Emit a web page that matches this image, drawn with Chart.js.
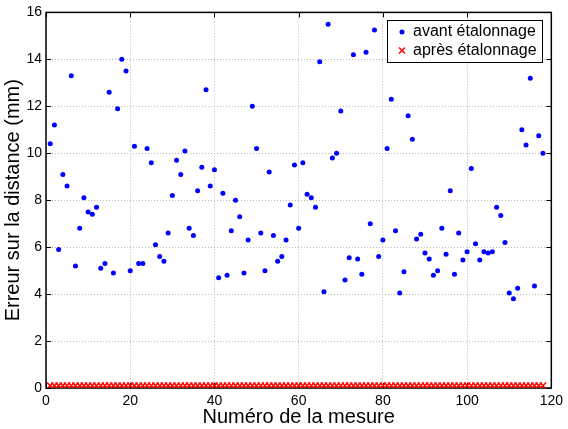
<!DOCTYPE html>
<html>
<head>
<meta charset="utf-8">
<script src="https://cdn.jsdelivr.net/npm/chart.js@4"></script>
<style>
    html, body { margin: 0; padding: 0; background: #fff; }
    canvas { display: block; }
</style>
</head>
<body>
<canvas id="chart" width="568" height="429"></canvas>
<script>
// erreur sur la distance (mm) pour chaque mesure, 1..118
var avantEtalonnage = [
    10.4, 11.2, 5.9, 9.1, 8.6, 13.3, 5.2, 6.8, 8.1, 7.5,
    7.4, 7.7, 5.1, 5.3, 12.6, 4.9, 11.9, 14.0, 13.5, 5.0,
    10.3, 5.3, 5.3, 10.2, 9.6, 6.1, 5.6, 5.4, 6.6, 8.2,
    9.7, 9.1, 10.1, 6.8, 6.5, 8.4, 9.4, 12.7, 8.6, 9.3,
    4.7, 8.3, 4.8, 6.7, 8.0, 7.3, 4.9, 6.3, 12.0, 10.2,
    6.6, 5.0, 9.2, 6.5, 5.4, 5.6, 6.3, 7.8, 9.5, 6.8,
    9.6, 8.25, 8.1, 7.7, 13.9, 4.1, 15.5, 9.8, 10.0, 11.8,
    4.6, 5.55, 14.2, 5.5, 4.85, 14.3, 7.0, 15.25, 5.6, 6.3,
    10.2, 12.3, 6.7, 4.05, 4.95, 11.6, 10.6, 6.35, 6.55, 5.75,
    5.5, 4.8, 5.0, 6.8, 5.7, 8.4, 4.85, 6.6, 5.45, 5.8,
    9.35, 6.15, 5.45, 5.8, 5.75, 5.8, 7.7, 7.35, 6.2, 4.05,
    3.8, 4.25, 11.0, 10.35, 13.2, 4.35, 10.75, 10.0
];
var apresEtalonnage = [
    0.1, 0.1, 0.1, 0.1, 0.1, 0.1, 0.1, 0.1, 0.1, 0.1,
    0.1, 0.1, 0.1, 0.1, 0.1, 0.1, 0.1, 0.1, 0.1, 0.1,
    0.1, 0.1, 0.1, 0.1, 0.1, 0.1, 0.1, 0.1, 0.1, 0.1,
    0.1, 0.1, 0.1, 0.1, 0.1, 0.1, 0.1, 0.1, 0.1, 0.1,
    0.1, 0.1, 0.1, 0.1, 0.1, 0.1, 0.1, 0.1, 0.1, 0.1,
    0.1, 0.1, 0.1, 0.1, 0.1, 0.1, 0.1, 0.1, 0.1, 0.1,
    0.1, 0.1, 0.1, 0.1, 0.1, 0.1, 0.1, 0.1, 0.1, 0.1,
    0.1, 0.1, 0.1, 0.1, 0.1, 0.1, 0.1, 0.1, 0.1, 0.1,
    0.1, 0.1, 0.1, 0.1, 0.1, 0.1, 0.1, 0.1, 0.1, 0.1,
    0.1, 0.1, 0.1, 0.1, 0.1, 0.1, 0.1, 0.1, 0.1, 0.1,
    0.1, 0.1, 0.1, 0.1, 0.1, 0.1, 0.1, 0.1, 0.1, 0.1,
    0.1, 0.1, 0.1, 0.1, 0.1, 0.1, 0.1, 0.1
];
var xTicks = [0, 20, 40, 60, 80, 100, 120];
var yTicks = [0, 2, 4, 6, 8, 10, 12, 14, 16];

var FONT = "'Liberation Sans', Arial, sans-serif";

function toPoints(values) {
    return values.map(function(v, i) { return { x: i + 1, y: v }; });
}

// cadre noir + graduations vers l'intérieur, style matlab
var framePlugin = {
    id: 'frame',
    beforeDatasetsDraw: function(chart) {
        var ctx = chart.ctx, a = chart.chartArea;
        var xs = chart.scales.x, ys = chart.scales.y;
        ctx.save();
        ctx.strokeStyle = '#000';
        ctx.lineWidth = 1;
        ctx.beginPath();
        xTicks.forEach(function(t) {
            var px = Math.round(xs.getPixelForValue(t)) + 0.5;
            ctx.moveTo(px, a.bottom); ctx.lineTo(px, a.bottom - 5);
            ctx.moveTo(px, a.top); ctx.lineTo(px, a.top + 5);
        });
        yTicks.forEach(function(t) {
            var py = Math.round(ys.getPixelForValue(t)) + 0.5;
            ctx.moveTo(a.left, py); ctx.lineTo(a.left + 5, py);
            ctx.moveTo(a.right, py); ctx.lineTo(a.right - 5, py);
        });
        ctx.stroke();
        ctx.lineWidth = 1.5;
        ctx.strokeRect(a.left, a.top, a.right - a.left, a.bottom - a.top);
        ctx.restore();
    }
};

// légende dans le coin haut droit
var legendPlugin = {
    id: 'boxLegend',
    afterDraw: function(chart) {
        var ctx = chart.ctx;
        var bx = 387, by = 20, bw = 155, bh = 42;
        ctx.save();
        ctx.fillStyle = '#fff';
        ctx.fillRect(bx, by, bw, bh);
        ctx.strokeStyle = '#000';
        ctx.lineWidth = 1;
        ctx.strokeRect(bx + 0.5, by + 0.5, bw, bh);
        ctx.font = '16px ' + FONT;
        ctx.textBaseline = 'middle';
        chart.data.datasets.forEach(function(ds, i) {
            var cy = by + 12 + i * 18.5;
            var mx = 402;
            if (ds.pointStyle === 'circle') {
                ctx.fillStyle = ds.backgroundColor;
                ctx.beginPath();
                ctx.arc(mx, cy, 2.5, 0, Math.PI * 2);
                ctx.fill();
            } else {
                ctx.strokeStyle = ds.borderColor;
                ctx.lineWidth = 1.5;
                ctx.beginPath();
                ctx.moveTo(mx - 3, cy - 3); ctx.lineTo(mx + 3, cy + 3);
                ctx.moveTo(mx - 3, cy + 3); ctx.lineTo(mx + 3, cy - 3);
                ctx.stroke();
            }
            ctx.fillStyle = '#000';
            ctx.fillText(ds.label, 413, cy);
        });
        ctx.restore();
    }
};

var chart = new Chart(document.getElementById('chart'), {
    type: 'scatter',
    data: {
        datasets: [{
            label: 'avant étalonnage',
            data: toPoints(avantEtalonnage),
            pointStyle: 'circle',
            pointRadius: 2.5,
            borderWidth: 0,
            backgroundColor: '#0000ff',
            borderColor: '#0000ff'
        }, {
            label: 'après étalonnage',
            data: toPoints(apresEtalonnage),
            pointStyle: 'crossRot',
            pointRadius: 4.5,
            borderWidth: 1.5,
            backgroundColor: '#ff0000',
            borderColor: '#ff0000'
        }]
    },
    options: {
        responsive: false,
        animation: false,
        devicePixelRatio: 1,
        layout: { padding: { top: 11, right: 14, left: 0, bottom: 0 } },
        plugins: {
            legend: { display: false },
            tooltip: { enabled: false }
        },
        scales: {
            x: {
                type: 'linear',
                min: 0, max: 120,
                afterBuildTicks: function(s) { s.ticks = xTicks.map(function(v) { return { value: v }; }); },
                afterFit: function(s) { s.height = 41; },
                grid: { color: '#b8b8b8', drawTicks: false },
                border: { display: false, dash: [1, 2] },
                ticks: { color: '#000', padding: 5, maxRotation: 0, font: { family: FONT, size: 14 } },
                title: {
                    display: true,
                    text: 'Numéro de la mesure',
                    color: '#000',
                    padding: { top: 3, bottom: 0 },
                    font: { family: FONT, size: 20 }
                }
            },
            y: {
                type: 'linear',
                min: 0, max: 16,
                afterBuildTicks: function(s) { s.ticks = yTicks.map(function(v) { return { value: v }; }); },
                afterFit: function(s) { s.width = 46; },
                grid: { color: '#b8b8b8', drawTicks: false },
                border: { display: false, dash: [1, 2] },
                ticks: { color: '#000', padding: 4, font: { family: FONT, size: 14 } },
                title: {
                    display: true,
                    text: 'Erreur sur la distance (mm)',
                    color: '#000',
                    padding: { top: 1, bottom: 0 },
                    font: { family: FONT, size: 20 }
                }
            }
        }
    },
    plugins: [framePlugin, legendPlugin]
});
</script>
</body>
</html>
